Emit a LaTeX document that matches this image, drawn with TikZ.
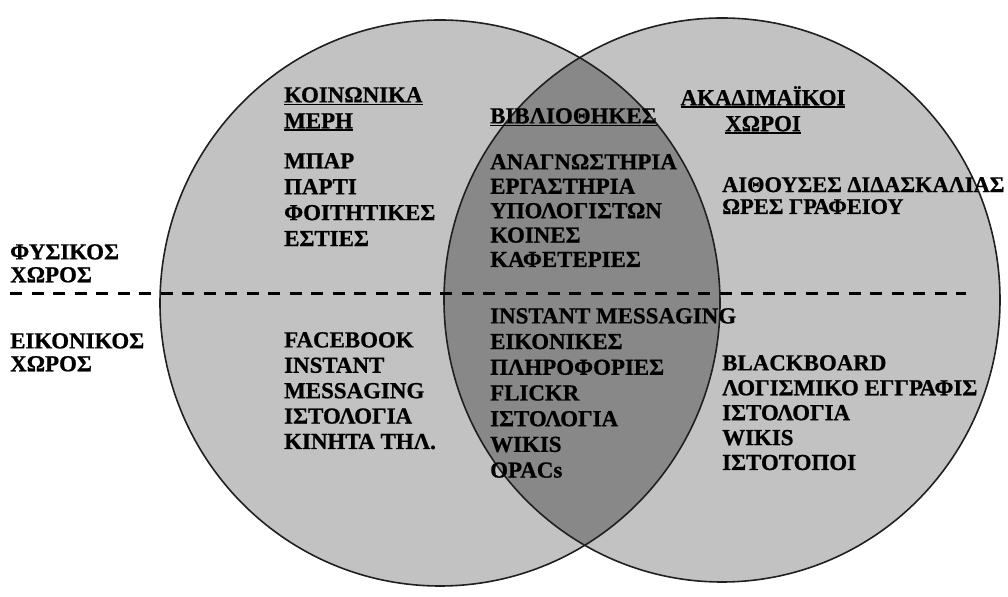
\documentclass[tikz,border=0pt]{standalone}
\usepackage{fontspec}
\setmainfont[BoldFeatures={FakeBold=0.8}]{Liberation Serif}
\usetikzlibrary{positioning}
\definecolor{CircleGrey}{HTML}{C2C2C2}
\definecolor{LensGrey}{HTML}{888888}
\definecolor{EdgeGrey}{HTML}{202020}
\newcommand{\headline}[1]{\setbox0\hbox{#1}\rlap{\rule[-3bp]{\wd0}{1.8bp}}\box0}

\begin{document}
\begin{tikzpicture}[
    x=1bp,y=1bp,
    lbl/.style={anchor=north west,inner sep=0pt,align=left,font=\bfseries\fontsize{23}{25.5}\selectfont},
    venn/.style={draw=EdgeGrey,line width=1.6bp},
    divider/.style={line width=3bp,dash pattern=on 12bp off 9.5bp}
  ]
  \useasboundingbox (0,0) rectangle (1008,597);
  % the two sets and their overlap
  \fill[CircleGrey] (440,294) ellipse [x radius=280,y radius=283];
  \fill[CircleGrey] (722,297) ellipse [x radius=278,y radius=282];
  \begin{scope}
    \clip (440,294) ellipse [x radius=280,y radius=283];
    \fill[LensGrey] (722,297) ellipse [x radius=278,y radius=282];
  \end{scope}
  \draw[venn] (440,294) ellipse [x radius=280,y radius=283];
  \draw[venn] (722,297) ellipse [x radius=278,y radius=282];

  % physical / virtual divider
  \coordinate (divL) at (10,303);
  \coordinate (divR) at (966,303);
  \draw[divider] (divL) -- (divR);
  \node[lbl,font=\bfseries\fontsize{23}{23}\selectfont] (phys) at (10,353) {ΦΥΣΙΚΟΣ\\ΧΩΡΟΣ};
  \node[lbl,font=\bfseries\fontsize{23}{23}\selectfont] (virt) at (10,264) {ΕΙΚΟΝΙΚΟΣ\\ΧΩΡΟΣ};

  % headings
  \node[lbl,font=\bfseries\fontsize{23}{26}\selectfont] (socialhead) at (284,510) {\headline{ΚΟΙΝΩΝΙΚΑ}\\\headline{ΜΕΡΗ}};
  \node[lbl] (libhead) at (490,489) {\headline{ΒΙΒΛΙΟΘΗΚΕΣ}};
  \node[lbl,anchor=north,align=center,font=\bfseries\fontsize{23}{26}\selectfont] (acadhead) at (763,511) {\headline{ΑΚΑΔΙΜΑΪΚΟΙ}\\\headline{ΧΩΡΟΙ}};

  % physical space
  \node[lbl,font=\bfseries\fontsize{23}{26}\selectfont] (sociallist) at (284,444) {ΜΠΑΡ\\ΠΑΡΤΙ\\ΦΟΙΤΗΤΙΚΕΣ\\ΕΣΤΙΕΣ};
  \node[lbl,font=\bfseries\fontsize{23}{24.5}\selectfont] (liblist) at (490,443) {ΑΝΑΓΝΩΣΤΗΡΙΑ\\ΕΡΓΑΣΤΗΡΙΑ\\ΥΠΟΛΟΓΙΣΤΩΝ\\ΚΟΙΝΕΣ\\ΚΑΦΕΤΕΡΙΕΣ};
  \node[lbl,font=\bfseries\fontsize{22.5}{22}\selectfont] (acadlist) at (722,420) {ΑΙΘΟΥΣΕΣ ΔΙΔΑΣΚΑΛΙΑΣ\\ΩΡΕΣ ΓΡΑΦΕΙΟΥ};

  % virtual space
  \node[lbl] (socialweb) at (284,265) {FACEBOOK\\INSTANT\\MESSAGING\\ΙΣΤΟΛΟΓΙΑ\\ΚΙΝΗΤΑ ΤΗΛ.};
  \node[lbl,font=\bfseries\fontsize{23}{25.8}\selectfont] (libweb) at (490,289) {INSTANT MESSAGING\\ΕΙΚΟΝΙΚΕΣ\\ΠΛΗΡΟΦΟΡΙΕΣ\\FLICKR\\ΙΣΤΟΛΟΓΙΑ\\WIKIS\\OPACs};
  \node[lbl,font=\bfseries\fontsize{23}{25}\selectfont] (acadweb) at (722,242) {BLACKBOARD\\ΛΟΓΙΣΜΙΚΟ ΕΓΓΡΑΦΙΣ\\ΙΣΤΟΛΟΓΙΑ\\WIKIS\\ΙΣΤΟΤΟΠΟΙ};
\end{tikzpicture}
\end{document}
